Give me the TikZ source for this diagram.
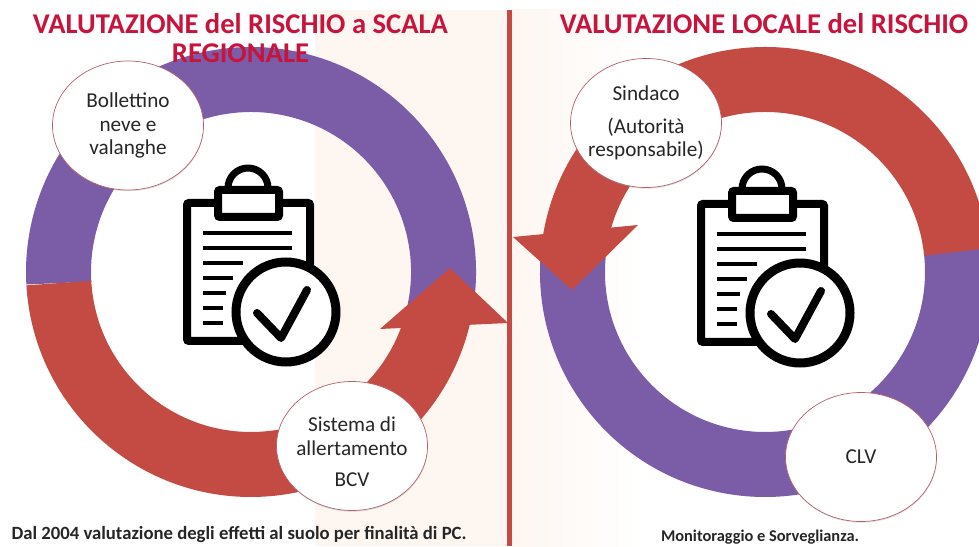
\documentclass[tikz,border=0pt]{standalone}
\usepackage{fontspec}
\setmainfont{Carlito}
\usetikzlibrary{shapes.geometric,shadows}
\definecolor{ringpurple}{HTML}{7A5DA6}
\definecolor{ringred}{HTML}{C34B43}
\definecolor{titlered}{HTML}{C8143C}
\definecolor{panelpink}{HTML}{FEF6F1}
\definecolor{inktext}{HTML}{262626}
\definecolor{bubbleedge}{HTML}{B5606E}
\tikzset{
  ringarc/.style={line width=65pt,draw=#1,line cap=butt},
  headfill/.style={fill=ringred,draw=none},
  bubble/.style={ellipse,draw=bubbleedge,line width=0.7pt,fill=white,
    minimum width=151pt,minimum height=129pt,inner xsep=-8pt,inner ysep=0pt,align=center,
    text=inktext,font=\fontsize{21.2}{23.5}\selectfont,
    drop shadow={opacity=.25,shadow xshift=0.3pt,shadow yshift=-1.2pt}},
  titletext/.style={text=titlered,font=\fontsize{28.6}{30}\bfseries\selectfont,inner sep=0pt},
  foottext/.style={text=inktext,font=\fontsize{#1}{20}\bfseries\selectfont,inner sep=0pt},
  clipboard/.pic={
    \draw[line width=7pt] (-20,84) arc[start angle=180,end angle=0,radius=20];
    \draw[line width=8pt,fill=white,rounded corners=2pt] (-61,69) rectangle (62,-69);
    \draw[line width=8pt,fill=white,rounded corners=2pt] (-30,82) rectangle (31,55);
    \draw[line width=3.6pt] (-45,39) -- (44,39);
    \draw[line width=3.6pt] (-45,24) -- (44,24);
    \draw[line width=3.6pt] (-45,9) -- (-5,9);
    \draw[line width=3.6pt] (-45,-6) -- (-15,-6);
    \draw[line width=3.6pt] (-45,-21) -- (-22,-21);
    \draw[line width=3.6pt] (-45,-36) -- (-25,-36);
    \draw[line width=3.6pt] (-45,-51) -- (-25,-51);
    \draw[line width=9pt,fill=white] (38,-40) circle[radius=50];
    \draw[line width=8pt,line cap=round,line join=round] (9,-41) -- (33,-66) -- (59,-18);
  }
}
\begin{document}
\begin{tikzpicture}[x=1pt,y=1pt]
\useasboundingbox (0,0) rectangle (979,546);
\clip (0,0) rectangle (979,546);
\fill[white] (0,0) rectangle (979,546);
% panels
\fill[panelpink] (315,0) rectangle (507,536);
\shade[left color=panelpink,right color=white,draw=none] (512,0) rectangle (640,536);
\fill[ringred] (507,0) rectangle (512,536);
% left ring
\draw[ringarc=ringpurple] (251,274) ++(-13:192.5) arc[start angle=-13,end angle=183.3,radius=192.5];
\draw[ringarc=ringred] (251,274) ++(183.3:192.5) arc[start angle=183.3,end angle=347.5,radius=192.5];
\fill[headfill] (380,217) -- (450,278) -- (508,223) -- cycle;
% right ring
\draw[ringarc=ringpurple] (765,274) ++(172:192.5) arc[start angle=172,end angle=367,radius=192.5];
\draw[ringarc=ringred] (765,274) ++(6:192.5) arc[start angle=6,end angle=172,radius=192.5];
\fill[headfill] (513,309) -- (572,256) -- (638,321) -- cycle;
% icons
\pic at (248,274) {clipboard};
\pic at (762,273) {clipboard};
% bubbles
\node[bubble] (bollettino) at (128,420.5) {Bollettino\\neve e\\valanghe};
\node[bubble] (sistema) at (352,100) {\rule{0pt}{27pt}Sistema di\\allertamento\\[8pt]BCV};
\node[bubble] (sindaco) at (646,423) {Sindaco\\[9pt](Autorità\\responsabile)};
\node[bubble] (clv) at (861,89) {CLV};
% titles
\node[titletext] (titleA) at (240.5,522) {VALUTAZIONE del RISCHIO a SCALA};
\node[titletext] (titleB) at (240.5,493) {REGIONALE};
\node[titletext] (titleC) at (764,522) {VALUTAZIONE LOCALE del RISCHIO};
% captions
\node[foottext=18.7] (footA) at (239,11) {Dal 2004 valutazione degli effetti al suolo per finalità di PC.};
\node[foottext=16.4] (footB) at (760,9) {Monitoraggio e Sorveglianza.};
\end{tikzpicture}
\end{document}
